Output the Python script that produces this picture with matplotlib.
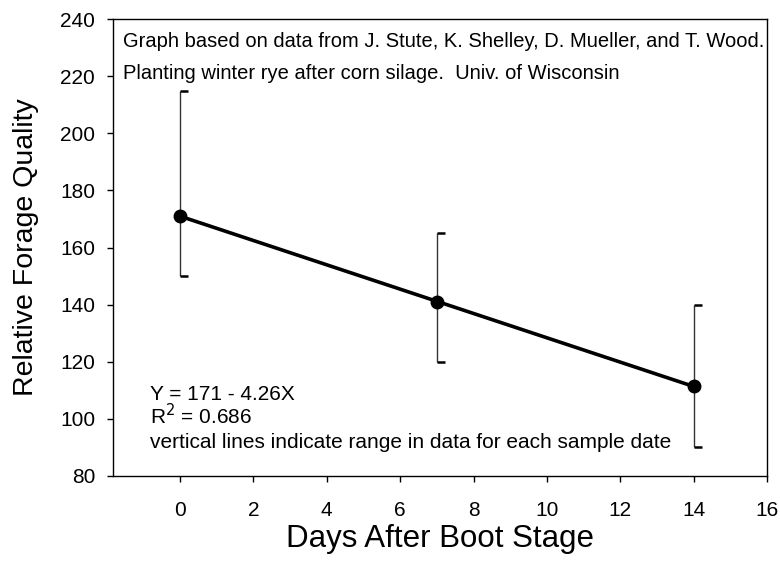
import matplotlib
matplotlib.use('Agg')
import matplotlib.pyplot as plt

plt.rcParams['font.family'] = ['Liberation Sans', 'DejaVu Sans']

# data
days = [0, 7, 14]
rfq = [171, 141, 111.5]
rfq_low = [150, 120, 90]
rfq_high = [215, 165, 140]
fit_intercept = 171
fit_slope = -4.26

x_ticks = [0, 2, 4, 6, 8, 10, 12, 14, 16]
y_ticks = [80, 100, 120, 140, 160, 180, 200, 220, 240]

fig = plt.figure(figsize=(7.8, 5.71), dpi=100)
ax = fig.add_axes([0.1449, 0.1664, 0.8385, 0.800])

ax.set_xlim(-1.826, 16)
ax.set_ylim(80, 240)

# range bars: vertical line plus a short cap on the right
cap = 0.22
ax.vlines(days, rfq_low, rfq_high, color='#333333', linewidth=1.0, zorder=2)
for d, lo, hi in zip(days, rfq_low, rfq_high):
    ax.hlines([lo, hi], d, d + cap, color='black', linewidth=1.8, zorder=2)

fit = [fit_intercept + fit_slope * d for d in days]
ax.plot(days, fit, color='black', linewidth=2.6, zorder=3)
ax.plot(days, rfq, 'o', color='black', markersize=9, zorder=4)

ax.set_xticks(x_ticks)
ax.set_yticks(y_ticks)
ax.tick_params(direction='out', length=4.3, width=1, labelsize=15, top=False, right=False)
ax.tick_params(axis='x', pad=13.5)
ax.tick_params(axis='y', pad=8.5)
for s in ax.spines.values():
    s.set_linewidth(1.0)

ax.set_xlabel('Days After Boot Stage', fontsize=22.5, labelpad=3)
ax.set_ylabel('Relative Forage Quality', fontsize=20.5, labelpad=15)

ax.text(0.015, 0.940, 'Graph based on data from J. Stute, K. Shelley, D. Mueller, and T. Wood.',
        transform=ax.transAxes, fontsize=14.5, va='baseline', ha='left')
ax.text(0.015, 0.869, 'Planting winter rye after corn silage.  Univ. of Wisconsin',
        transform=ax.transAxes, fontsize=14.5, va='baseline', ha='left')

ax.text(0.057, 0.167, 'Y = 171 - 4.26X', transform=ax.transAxes, fontsize=15, va='baseline')
ax.text(0.057, 0.114, r'R$^2$ = 0.686', transform=ax.transAxes, fontsize=15, va='baseline')
ax.text(0.057, 0.0615, 'vertical lines indicate range in data for each sample date',
        transform=ax.transAxes, fontsize=15, va='baseline')

fig.savefig('out.png', dpi=100)
